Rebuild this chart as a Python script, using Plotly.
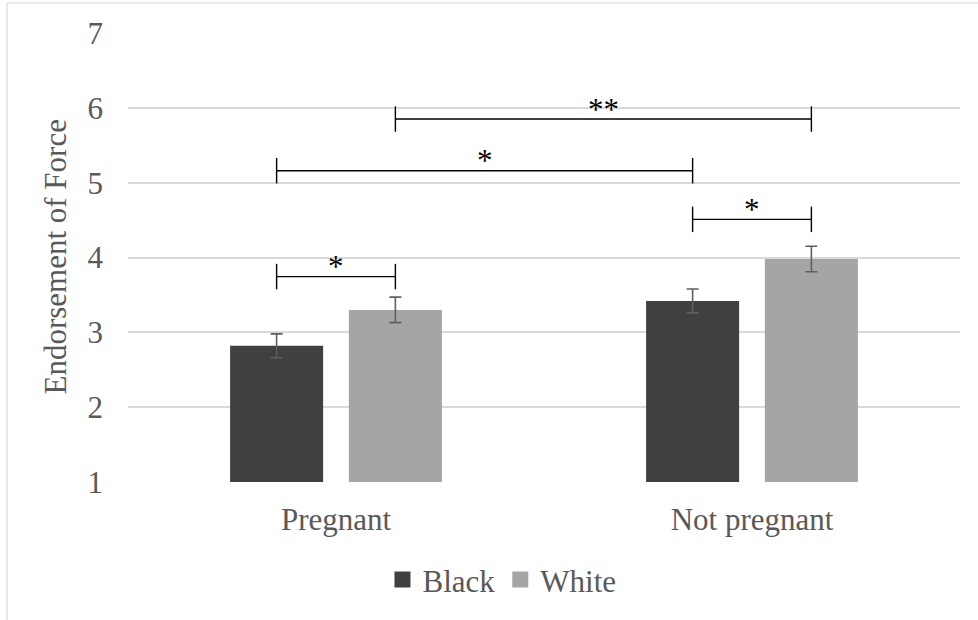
import plotly.graph_objects as go

# Mean endorsement of force by target condition and race
categories = ["Pregnant", "Not pregnant"]
black_means = [2.82, 3.42]
white_means = [3.30, 3.98]
black_err = [0.16, 0.16]
white_err = [0.17, 0.17]
y_title = "Endorsement of Force"

# Significance brackets: (from group, from series, to group, to series, height, label)
brackets = [
    (0, "Black", 0, "White", 3.745, "*"),
    (1, "Black", 1, "White", 4.51, "*"),
    (0, "Black", 1, "Black", 5.16, "*"),
    (0, "White", 1, "White", 5.85, "**"),
]

FONT = "Liberation Serif"
FSIZE = 31
TEXT_GRAY = "#595959"
BLACK_COL = "#404040"
WHITE_COL = "#A5A5A5"
ERR_COL = "#5f5f5f"

BARGAP = 0.429
BARGROUPGAP = 0.2165
slot = (1 - BARGAP) / 2
series_offset = {"Black": -slot / 2, "White": slot / 2}

fig = go.Figure()
for name, means, errs, col in [("Black", black_means, black_err, BLACK_COL),
                               ("White", white_means, white_err, WHITE_COL)]:
    fig.add_trace(go.Bar(
        name=name, x=categories, y=[v - 1 for v in means], base=1,
        marker=dict(color=col, line=dict(width=0)),
        error_y=dict(type="data", array=errs, color=ERR_COL, thickness=1.6, width=6),
        hoverinfo="skip", showlegend=False,
    ))
# Legend entries drawn as square swatches
for name, col in [("Black", BLACK_COL), ("White", WHITE_COL)]:
    fig.add_trace(go.Scatter(
        name=name, x=[None], y=[None], mode="markers",
        marker=dict(symbol="square", size=17, color=col, line=dict(width=0)),
        showlegend=True, hoverinfo="skip",
    ))

shapes = []
annotations = []
tick_half = 0.17
for g0, s0, g1, s1, h, label in brackets:
    xa = g0 + series_offset[s0]
    xb = g1 + series_offset[s1]
    line = dict(color="#000000", width=1.4)
    shapes.append(dict(type="line", xref="x", yref="y", x0=xa, x1=xb, y0=h, y1=h, line=line))
    shapes.append(dict(type="line", xref="x", yref="y", x0=xa, x1=xa, y0=h - tick_half, y1=h + tick_half, line=line))
    shapes.append(dict(type="line", xref="x", yref="y", x0=xb, x1=xb, y0=h - tick_half, y1=h + tick_half, line=line))
    annotations.append(dict(
        x=(xa + xb) / 2, y=h, xref="x", yref="y", text=label, showarrow=False,
        yanchor="middle", yshift=10, font=dict(family=FONT, size=FSIZE, color="#000000"),
    ))

# Vertical axis title
annotations.append(dict(
    x=-0.0877, y=0.5, xref="paper", yref="paper", text=y_title, showarrow=False,
    textangle=-90, xanchor="center", yanchor="middle",
    font=dict(family=FONT, size=FSIZE, color=TEXT_GRAY),
))

# Outer chart border (left and top edges fall inside the canvas)
shapes.append(dict(type="rect", xref="paper", yref="paper",
                   x0=-0.1454, x1=1.03, y0=-0.318, y1=1.0668,
                   line=dict(color="#d9d9d9", width=1.2), layer="below"))

fig.update_layout(
    width=978, height=620,
    margin=dict(l=128, r=18, t=33, b=138),
    paper_bgcolor="white", plot_bgcolor="white",
    barmode="group", bargap=BARGAP, bargroupgap=BARGROUPGAP,
    font=dict(family=FONT, size=FSIZE, color=TEXT_GRAY),
    showlegend=True,
    legend=dict(orientation="h", x=0.4495, xanchor="center", y=-0.218, yanchor="middle",
                font=dict(family=FONT, size=FSIZE, color=TEXT_GRAY),
                bgcolor="rgba(0,0,0,0)"),
    shapes=shapes, annotations=annotations,
)
fig.update_xaxes(
    type="category", range=[-0.5, 1.5], showgrid=False, zeroline=False, showline=False,
    ticks="", tickfont=dict(family=FONT, size=FSIZE, color=TEXT_GRAY), ticklabelstandoff=16,
)
fig.update_yaxes(
    range=[1, 7], dtick=1, tick0=1, showgrid=True, gridcolor="#d9d9d9", gridwidth=1.5,
    zeroline=False, showline=False, ticks="",
    tickfont=dict(family=FONT, size=FSIZE, color=TEXT_GRAY), ticklabelstandoff=24,
)

fig.write_html("out.html")
